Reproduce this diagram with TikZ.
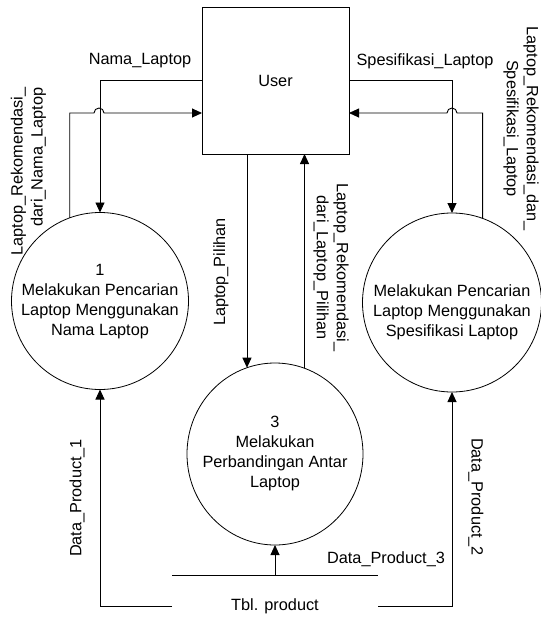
\documentclass[tikz,border=0pt]{standalone}
\usepackage{fontspec}
\setmainfont{Liberation Sans}
\usetikzlibrary{arrows.meta,shapes.geometric}
\begin{document}
\begin{tikzpicture}[x=1pt,y=-1pt,
  every node/.style={font=\fontsize{16.3}{20}\selectfont, inner sep=0pt, outer sep=0pt},
  ln/.style={line width=0.9pt},
  arr/.style={line width=0.9pt, -{Triangle[length=10pt,width=9pt]}},
  proc/.style={draw, circle, line width=0.8pt, minimum size=177pt},
  txt/.style={align=center}]
\useasboundingbox (0,0) rectangle (541,627);
% entity
\node[draw, line width=0.9pt, minimum width=147pt, minimum height=147pt] (user) at (275.5,80.5) {User};
% processes
\node[proc] (p1) at (100,301) {};
\node[txt] (p1t) at (100,301.7) {1\\Melakukan Pencarian\\Laptop Menggunakan\\Nama Laptop};
\node[proc, minimum size=179pt] (p2) at (452,302.5) {};
\node[txt] (p2t) at (452,312.3) {Melakukan Pencarian\\Laptop Menggunakan\\Spesifikasi Laptop};
\node[draw, ellipse, line width=0.8pt, minimum width=176pt, minimum height=182pt] (p3) at (275,454) {};
\node[txt] (p3t) at (275,453.5) {3\\Melakukan\\Perbandingan Antar\\Laptop};
% data store
\node[minimum width=206pt, minimum height=61pt] (store) at (275,606) {Tbl. product};
\draw[ln] (store.north west) -- (store.north east);
% flows
\draw[arr] (user.west) -| (p1.north);
\coordinate (j1) at (94,113);
\draw[arr] (p1.110.5) |- (j1) arc[start angle=180, end angle=0, radius=5pt] -- (user.west |- j1);
\draw[arr] (user.east) -| (p2.north);
\coordinate (j2) at (457,113);
\draw[arr] (p2.70.2) |- (j2) arc[start angle=0, end angle=180, radius=5pt] -- (user.east |- j2);
\draw[arr] (user.south -| p3.108.6) -- (p3.108.6);
\draw[arr] (p3.71.4) -- (user.south -| p3.71.4);
\draw[arr] (store.north) -- (p3.south);
\draw[arr] (store.west) -| (p1.south);
\draw[arr] (store.east) -| (p2.south);
% labels
\node[txt] (l1) at (140,61) {Nama\_Laptop};
\node[txt] (l2) at (425,61) {Spesifikasi\_Laptop};
\node[rotate=90, align=right] (l3) at (28.5,171.5) {Laptop\_Rekomendasi\_\\dari\_Nama\_Laptop};
\node[rotate=-90, txt] (l4) at (521,128.5) {Laptop\_Rekomendasi\_dan\_\\Spesifikasi\_Laptop};
\node[rotate=90, txt] (l5) at (221,272) {Laptop\_Pilihan};
\node[rotate=-90, txt] (l6) at (331,267.5) {Laptop\_Rekomendasi\_\\dari\_Laptop\_Pilihan};
\node[rotate=90, txt] (l7) at (77,498) {Data\_Product\_1};
\node[rotate=-90, txt] (l8) at (476,497) {Data\_Product\_2};
\node[txt] (l9) at (386,559) {Data\_Product\_3};
\end{tikzpicture}
\end{document}
